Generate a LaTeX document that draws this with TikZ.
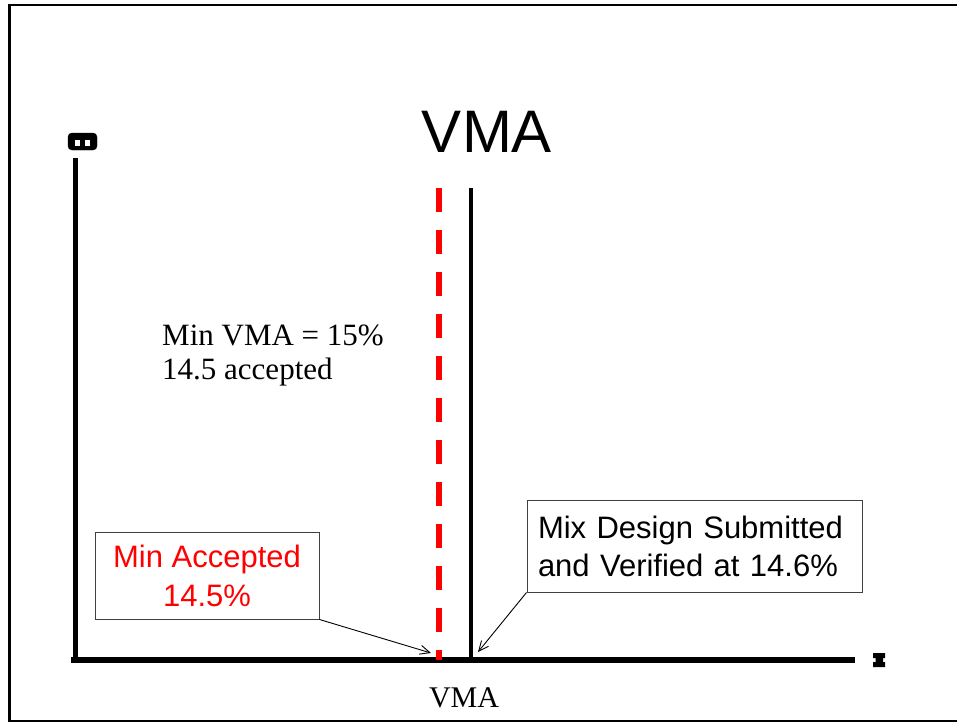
\documentclass[tikz,border=0pt]{standalone}
\usepackage{fontspec}
\setmainfont{Liberation Serif}
\newfontfamily\arialfont{Liberation Sans}
\usetikzlibrary{positioning, arrows.meta}
\definecolor{MinRed}{HTML}{FF0000}

\tikzset{
  callout/.style={draw=black!75, line width=1pt, fill=white, inner sep=0pt},
  pointer/.style={line width=0.9pt, -{Straight Barb[length=10pt,width=9pt]}},
  plaintext/.style={inner sep=0pt, font=\fontsize{31}{33}\selectfont},
}

\begin{document}
\begin{tikzpicture}[x=1pt, y=-1pt]
  \useasboundingbox (0,0) rectangle (957,723);

  % Rahmen
  \draw[line width=2.5pt] (962,5) -- (9.5,5) -- (9.5,721) -- (962,721);

  % Titel
  \node[font=\arialfont\fontsize{60}{66}\selectfont, anchor=base] (title) at (487,152) {VMA};

  % Achsen
  \draw[line width=5.5pt] (75.5,158) -- (75.5,663);
  \draw[line width=6pt] (71,660) -- (855,660);
  \filldraw[rounded corners=4pt] (68,133) rectangle (97,150);
  \fill[white] (75,140) rectangle (80,146);
  \fill[white] (85,140) rectangle (90,146);
  \fill (873,653) -- (885,653) -- (885,658) -- (883,658) -- (883,662) -- (885,662)
    -- (885,667) -- (873,667) -- (873,662) -- (875.5,662) -- (875.5,658) -- (873,658) -- cycle;

  % Grenzen
  \draw[MinRed, line width=6pt, dash pattern=on 24pt off 18pt] (439,188) -- (439,660);
  \draw[line width=3.5pt] (471,188) -- (471,660);

  % Text
  \node[plaintext, anchor=base west] (minvma) at (162,345) {Min VMA = 15\%};
  \node[plaintext, anchor=base west] (accepted) at (162,379) {14.5 accepted};

  % Kaesten
  \node[callout, text=MinRed, align=center, minimum width=224pt, minimum height=87pt,
    font=\arialfont\fontsize{31}{39}\selectfont] (minbox) at (207,575.5) {Min Accepted\\14.5\%};
  \node[callout, align=left, text width=313pt, inner xsep=11pt, minimum height=92pt,
    font=\arialfont\fontsize{31}{38}\selectfont] (mixbox) at (694.5,546) {Mix Design Submitted\\and Verified at 14.6\%};

  \coordinate (mintip) at (431,653);
  \coordinate (mixtip) at (478,652);
  \draw[pointer] (minbox.south east) -- (mintip);
  \draw[pointer] (mixbox.south west) -- (mixtip);

  \node[font=\fontsize{30}{35}\selectfont, anchor=base] (xlabel) at (464,707) {VMA};
\end{tikzpicture}
\end{document}
